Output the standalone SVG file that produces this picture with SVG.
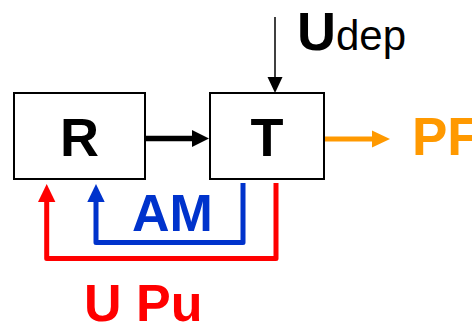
<svg xmlns="http://www.w3.org/2000/svg" width="472" height="323" viewBox="0 0 472 323">
<style>
.box{fill:#fff;stroke:#000;stroke-width:2}
.lbl{font-family:"Liberation Sans",Arial,sans-serif;font-weight:bold}
.thick{fill:none;stroke-width:5;stroke-linejoin:round}
</style>
<defs>
<marker id="hk" markerUnits="userSpaceOnUse" markerWidth="18" markerHeight="18" refX="0" refY="8.5" orient="auto" overflow="visible"><path d="M0,0 L17,8.5 L0,17 z" fill="#000"/></marker>
<marker id="hthin" markerUnits="userSpaceOnUse" markerWidth="16" markerHeight="16" refX="0" refY="7.5" orient="auto" overflow="visible"><path d="M0,0 L16,7.5 L0,15 z" fill="#000"/></marker>
<marker id="ho" markerUnits="userSpaceOnUse" markerWidth="18" markerHeight="18" refX="0" refY="8.5" orient="auto" overflow="visible"><path d="M0,0 L18,8.5 L0,17 z" fill="#FF9900"/></marker>
<marker id="hr" markerUnits="userSpaceOnUse" markerWidth="18" markerHeight="18" refX="0" refY="8.7" orient="auto" overflow="visible"><path d="M0,0 L18,8.7 L0,17.4 z" fill="#FF0000"/></marker>
<marker id="hb" markerUnits="userSpaceOnUse" markerWidth="18" markerHeight="18" refX="0" refY="8.7" orient="auto" overflow="visible"><path d="M0,0 L18,8.7 L0,17.4 z" fill="#0033CC"/></marker>
</defs>
<g id="R"><rect class="box" x="14" y="93" width="131" height="86"/><text class="lbl" x="79.5" y="156" font-size="54" text-anchor="middle">R</text></g>
<g id="T"><rect class="box" x="210" y="93" width="114" height="86"/><text class="lbl" x="267" y="156" font-size="54" text-anchor="middle">T</text></g>
<g id="connectors">
<line x1="145" y1="138.5" x2="192" y2="138.5" stroke="#000" stroke-width="5.5" marker-end="url(#hk)"/>
<line x1="275" y1="17" x2="275" y2="77" stroke="#000" stroke-width="1.5" marker-end="url(#hthin)"/>
<line x1="325" y1="139" x2="372" y2="139" stroke="#FF9900" stroke-width="5" marker-end="url(#ho)"/>
<path class="thick" d="M276,183 V258.5 H46.7 V202" stroke="#FF0000" marker-end="url(#hr)"/>
<path class="thick" d="M243,183 V242.5 H96 V202" stroke="#0033CC" marker-end="url(#hb)"/>
</g>
<g id="labels">
<text class="lbl" x="297" y="50" font-size="54" fill="#000">U<tspan font-weight="normal" font-size="42">dep</tspan></text>
<text class="lbl" x="412" y="155" font-size="53" fill="#FF9900">PF</text>
<text class="lbl" x="132" y="230.7" font-size="52" fill="#0033CC">AM</text>
<text class="lbl" x="84" y="320.5" font-size="52" fill="#FF0000">U Pu</text>
</g>
</svg>
